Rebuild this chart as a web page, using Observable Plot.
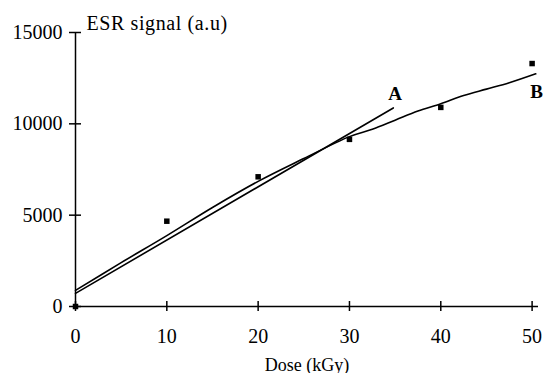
<!DOCTYPE html>
<html>
<head>
<meta charset="utf-8">
<script src="https://cdn.jsdelivr.net/npm/d3@7"></script>
<script src="https://cdn.jsdelivr.net/npm/@observablehq/plot@0.6"></script>
<style>
  html, body { margin: 0; padding: 0; background: white; }
  #chart svg { display: block; }
</style>
</head>
<body>
<div id="chart"></div>
<script>
// Measured data points (dose in kGy, ESR signal in a.u.)
const doses = [0, 10, 20, 30, 40, 50];
const signals = [0, 4670, 7100, 9150, 10900, 13300];

// Curve A (linear fit)
const lineADose = [0, 34.8];
const lineASignal = [720, 10870];

// Curve B (saturating fit)
const lineBDose = [0, 5, 10, 15, 20, 25, 30, 32.5, 35, 37.5, 40, 42.5, 45, 47.5, 50.4];
const lineBSignal = [880, 2400, 3880, 5420, 6850, 8100, 9300, 9700, 10200, 10700, 11100, 11550, 11900, 12250, 12740];

// Curve labels
const curveNames = ["A", "B"];
const curveLabelDose = [35, 50.5];
const curveLabelSignal = [11650, 11750];

// Axis ticks and titles
const xTicks = [0, 10, 20, 30, 40, 50];
const yTicks = [0, 5000, 10000, 15000];
const xTitle = "Dose (kGy)";
const yTitle = "ESR signal (a.u)";

const points = doses.map((d, i) => ({dose: d, signal: signals[i]}));
const lineA = lineADose.map((d, i) => ({dose: d, signal: lineASignal[i]}));
const lineB = lineBDose.map((d, i) => ({dose: d, signal: lineBSignal[i]}));
const labels = curveNames.map((n, i) => ({name: n, dose: curveLabelDose[i], signal: curveLabelSignal[i]}));

const chart = Plot.plot({
  width: 544,
  height: 373,
  marginLeft: 75,
  marginRight: 6,
  marginTop: 32,
  marginBottom: 67,
  style: {fontFamily: "'Liberation Serif', 'Times New Roman', serif", fontSize: "20px", color: "black", background: "white"},
  x: {domain: [0, 50.7]},
  y: {domain: [0, 15000]},
  marks: [
    Plot.axisX({ticks: xTicks, tickFormat: d3.format("d"), tickSize: 10, dy: -5, tickPadding: 17, strokeWidth: 1.5, label: null, fontSize: 20}),
    Plot.axisY({ticks: yTicks, tickFormat: d3.format("d"), tickSize: 12, dx: 6, tickPadding: 7, strokeWidth: 1.5, label: null, fontSize: 20}),
    Plot.ruleX([0], {strokeWidth: 1.5}),
    Plot.ruleY([0], {strokeWidth: 1.5}),
    Plot.line(lineA, {x: "dose", y: "signal", stroke: "black", strokeWidth: 1.6}),
    Plot.line(lineB, {x: "dose", y: "signal", stroke: "black", strokeWidth: 1.6, curve: "catmull-rom"}),
    Plot.dot(points, {x: "dose", y: "signal", symbol: "square", r: 3.1, fill: "black", stroke: "none"}),
    Plot.text(labels, {x: "dose", y: "signal", text: "name", fontWeight: "bold", fontSize: 19, fill: "black"}),
    Plot.text([yTitle], {frameAnchor: "top-left", textAnchor: "start", lineAnchor: "bottom", dx: 11, dy: -3, fontSize: 20, fill: "black", style: "letter-spacing:0.6px"}),
    Plot.text([xTitle], {frameAnchor: "bottom", lineAnchor: "bottom", dy: 64, fontSize: 18, fill: "black"})
  ]
});
// letter spacing for y title
chart.querySelectorAll("text").forEach(t => { if (t.textContent === yTitle) t.setAttribute("letter-spacing", "0.6"); });
document.getElementById("chart").appendChild(chart);
</script>
</body>
</html>
